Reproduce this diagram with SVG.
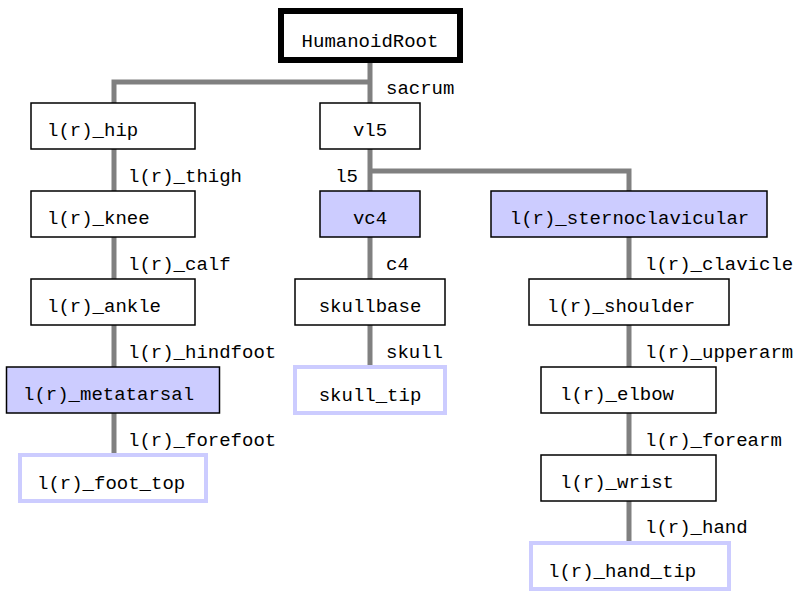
<svg xmlns="http://www.w3.org/2000/svg" width="796" height="591" viewBox="0 0 796 591">
<style>
text{font-family:"Liberation Mono","DejaVu Sans Mono",monospace;font-size:19px;fill:#000}
.n{fill:#fff;stroke:#000;stroke-width:1.5}
.h{fill:#ccccff;stroke:#000;stroke-width:1.5}
.t{fill:#fff;stroke:#ccccff;stroke-width:4}
.root{fill:#fff;stroke:#000;stroke-width:6}
.c{fill:none;stroke:#808080;stroke-width:5}
.m{text-anchor:middle}
</style>
<rect width="796" height="591" fill="#fff"/>
<g id="connectors">
<path class="c" d="M370,63 V103 M370,82 H114 V103"/>
<path class="c" d="M114,149 V191 M114,237 V279 M114,325 V367 M114,413 V455"/>
<path class="c" d="M370,149 V191 M370,171 H629 V191"/>
<path class="c" d="M370,237 V279 M370,325 V367"/>
<path class="c" d="M629,237 V279 M629,325 V367 M629,413 V455 M629,501 V543"/>
<text x="386" y="94">sacrum</text>
<text x="128" y="182">l(r)_thigh</text>
<text x="128" y="270">l(r)_calf</text>
<text x="128" y="358">l(r)_hindfoot</text>
<text x="128" y="446">l(r)_forefoot</text>
<text x="358" y="182" text-anchor="end">l5</text>
<text x="386" y="270">c4</text>
<text x="386" y="358">skull</text>
<text x="645" y="270">l(r)_clavicle</text>
<text x="645" y="358">l(r)_upperarm</text>
<text x="645" y="446">l(r)_forearm</text>
<text x="645" y="533">l(r)_hand</text>
</g>
<g id="HumanoidRoot"><rect class="root" x="281" y="11" width="179" height="49"/><text class="m" x="370" y="47">HumanoidRoot</text></g>
<g id="hip"><rect class="n" x="31" y="103" width="164" height="46"/><text x="47" y="136">l(r)_hip</text></g>
<g id="knee"><rect class="n" x="31" y="191" width="164" height="46"/><text x="47" y="224">l(r)_knee</text></g>
<g id="ankle"><rect class="n" x="31" y="279" width="164" height="46"/><text x="47" y="312">l(r)_ankle</text></g>
<g id="metatarsal"><rect class="h" x="6.5" y="367" width="213" height="46"/><text x="23" y="400">l(r)_metatarsal</text></g>
<g id="foot_top"><rect class="t" x="20" y="455" width="186" height="46"/><text x="37" y="489">l(r)_foot_top</text></g>
<g id="vl5"><rect class="n" x="320" y="103" width="100" height="46"/><text class="m" x="370" y="136">vl5</text></g>
<g id="vc4"><rect class="h" x="320" y="191" width="100" height="46"/><text class="m" x="370" y="224">vc4</text></g>
<g id="skullbase"><rect class="n" x="295" y="279" width="150" height="46"/><text class="m" x="370" y="312">skullbase</text></g>
<g id="skull_tip"><rect class="t" x="295" y="367" width="150" height="46"/><text class="m" x="370" y="401">skull_tip</text></g>
<g id="sternoclavicular"><rect class="h" x="491" y="191" width="276" height="46"/><text class="m" x="629.5" y="224">l(r)_sternoclavicular</text></g>
<g id="shoulder"><rect class="n" x="529" y="279" width="200" height="46"/><text x="547" y="312">l(r)_shoulder</text></g>
<g id="elbow"><rect class="n" x="541" y="367" width="175" height="46"/><text x="560" y="400">l(r)_elbow</text></g>
<g id="wrist"><rect class="n" x="541" y="455" width="175" height="46"/><text x="560" y="488">l(r)_wrist</text></g>
<g id="hand_tip"><rect class="t" x="531" y="543" width="198" height="46"/><text x="548" y="577">l(r)_hand_tip</text></g>
</svg>
